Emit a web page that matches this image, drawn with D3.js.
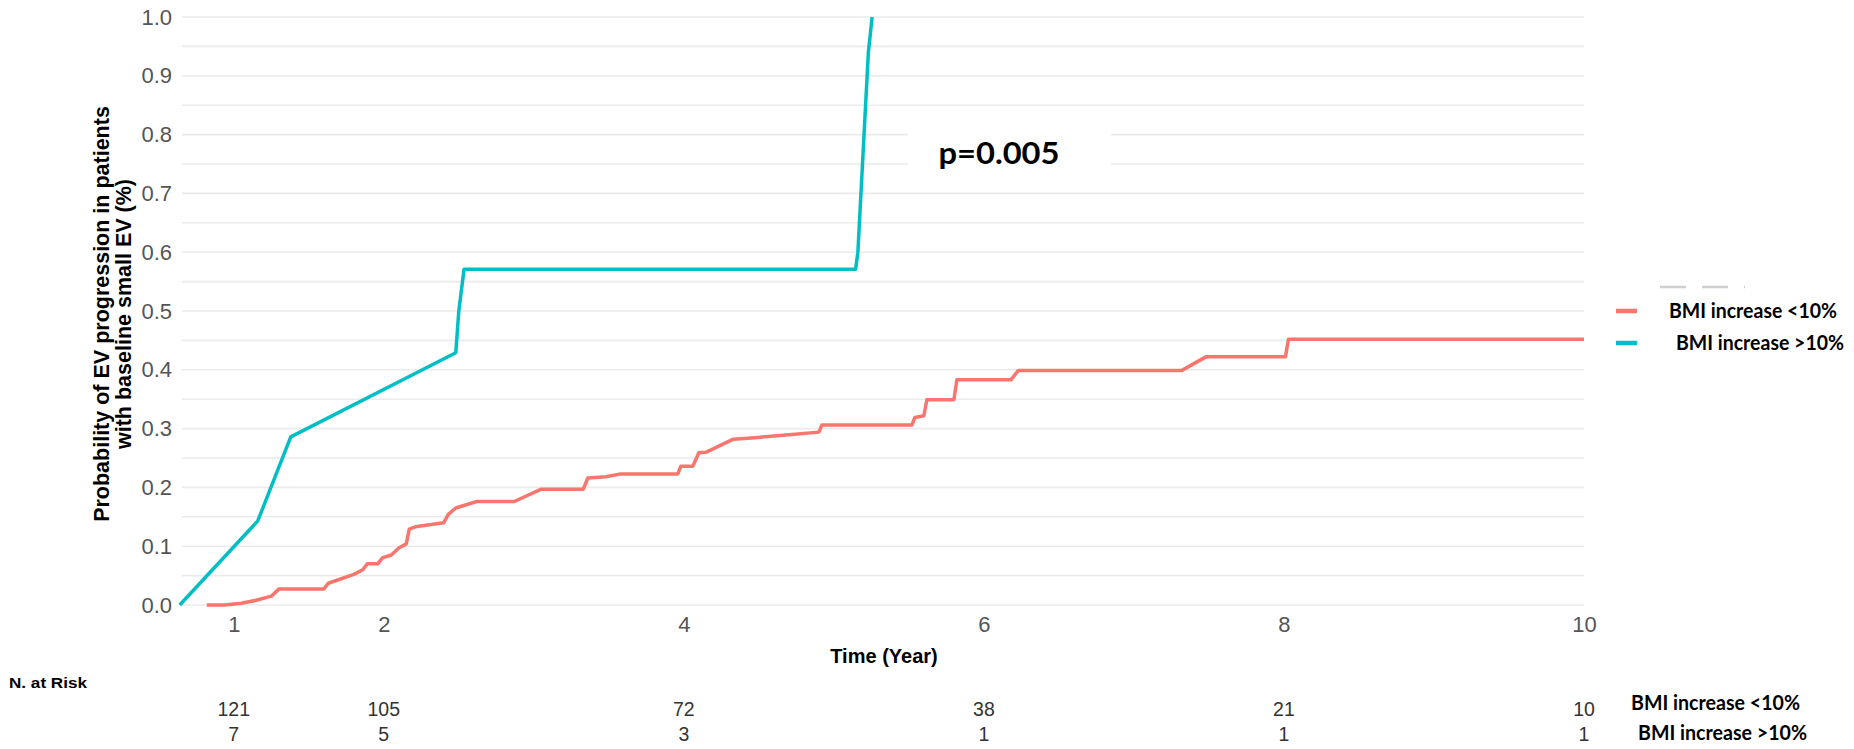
<!DOCTYPE html>
<html lang="en">
<head>
  <meta charset="UTF-8">
  <title>EV progression by BMI increase</title>
  <style>
    body { margin: 0; background: #fff; }
    svg { display: block; }
  </style>
</head>
<body>
  <svg id="chart" width="1854" height="749"></svg>

  <script src="https://d3js.org/d3.v7.min.js"></script>
  <script>
    // values (time in years, cumulative probability)
    const groups = ["BMI increase <10%", "BMI increase >10%"];
    const groupColors = ["#F8766D", "#00BFC4"];

    const timeLow = [0.82, 0.94, 1.05, 1.15, 1.25, 1.30, 1.60, 1.63, 1.80, 1.86, 1.89, 1.96, 1.99, 2.05, 2.10, 2.15,
      2.17, 2.21, 2.40, 2.43, 2.48, 2.62, 2.87, 3.05, 3.33, 3.36, 3.48, 3.58, 3.96, 3.98, 4.06, 4.10, 4.15, 4.33,
      4.45, 4.72, 4.90, 4.92, 5.52, 5.54, 5.60, 5.62, 5.80, 5.82, 6.18, 6.23, 7.32, 7.48, 8.01, 8.03, 10.0];
    const probLow = [0, 0, 0.003, 0.008, 0.015, 0.027, 0.027, 0.037, 0.052, 0.06, 0.07, 0.07, 0.08, 0.085, 0.097, 0.104,
      0.129, 0.133, 0.14, 0.154, 0.165, 0.176, 0.176, 0.197, 0.197, 0.216, 0.218, 0.223, 0.223, 0.236, 0.236, 0.259, 0.26, 0.282,
      0.284, 0.29, 0.294, 0.306, 0.306, 0.319, 0.322, 0.349, 0.349, 0.383, 0.383, 0.399, 0.399, 0.422, 0.422, 0.452, 0.452];

    const timeHigh = [0.64, 1.16, 1.38, 2.48, 2.50, 2.535, 5.145, 5.16, 5.23, 5.255];
    const probHigh = [0, 0.143, 0.286, 0.429, 0.50, 0.571, 0.571, 0.60, 0.94, 1.0];

    const xTicks = [1, 2, 4, 6, 8, 10];
    const yTicks = [0, 0.1, 0.2, 0.3, 0.4, 0.5, 0.6, 0.7, 0.8, 0.9, 1.0];
    const riskLow = [121, 105, 72, 38, 21, 10];
    const riskHigh = [7, 5, 3, 1, 1, 1];
    const pText = "p=0.005";

    const svg = d3.select("#chart");

    const x = d3.scaleLinear().domain([0.655, 10]).range([182, 1584]);
    const y = d3.scaleLinear().domain([0, 1]).range([605, 17]);

    // horizontal grid, major + minor every 0.05
    const gridVals = d3.range(0, 1.0001, 0.05);
    svg.append("g")
      .selectAll("line")
      .data(gridVals)
      .enter().append("line")
      .attr("x1", x.range()[0])
      .attr("x2", x.range()[1])
      .attr("y1", d => y(d))
      .attr("y2", d => y(d))
      .attr("stroke", "#ebebeb")
      .attr("stroke-width", 1.6);

    // y axis labels
    const yAxis = svg.append("g")
      .attr("transform", "translate(182,0)")
      .call(d3.axisLeft(y).tickValues(yTicks).tickFormat(d3.format(".1f")).tickSize(0).tickPadding(10));
    yAxis.select(".domain").remove();
    yAxis.selectAll("text")
      .attr("font-family", "Liberation Sans, Arial, sans-serif")
      .attr("font-size", 22)
      .attr("fill", "#555");

    // x axis labels
    const xAxis = svg.append("g")
      .attr("transform", "translate(0,612)")
      .call(d3.axisBottom(x).tickValues(xTicks).tickFormat(d3.format("d")).tickSize(0).tickPadding(4));
    xAxis.select(".domain").remove();
    xAxis.selectAll("text")
      .attr("font-family", "Liberation Sans, Arial, sans-serif")
      .attr("font-size", 22)
      .attr("fill", "#555");

    // curves
    const line = d3.line().x(d => x(d[0])).y(d => y(d[1]));
    const series = [
      d3.zip(timeLow, probLow),
      d3.zip(timeHigh, probHigh)
    ];
    svg.append("g")
      .selectAll("path")
      .data(series)
      .enter().append("path")
      .attr("d", line)
      .attr("fill", "none")
      .attr("stroke", (d, i) => groupColors[i])
      .attr("stroke-width", 3.5)
      .attr("stroke-linejoin", "round");

    // p value on a white patch
    svg.append("rect")
      .attr("x", 908).attr("y", 116)
      .attr("width", 203).attr("height", 64)
      .attr("fill", "#fff");
    svg.append("text")
      .attr("x", 999).attr("y", 164)
      .attr("text-anchor", "middle")
      .attr("font-family", "Lato, Noto Sans, sans-serif")
      .attr("font-weight", "bold")
      .attr("font-size", 31)
      .attr("textLength", 121)
      .attr("lengthAdjust", "spacingAndGlyphs")
      .text(pText);

    // axis titles
    svg.append("text")
      .attr("x", 884).attr("y", 663)
      .attr("text-anchor", "middle")
      .attr("font-family", "Liberation Sans, Arial, sans-serif")
      .attr("font-weight", "bold")
      .attr("font-size", 20)
      .text("Time (Year)");

    const yTitle = svg.append("text")
      .attr("transform", "translate(0,314) rotate(-90)")
      .attr("text-anchor", "middle")
      .attr("font-family", "Liberation Sans, Arial, sans-serif")
      .attr("font-weight", "bold")
      .attr("font-size", 21.5);
    yTitle.append("tspan").attr("x", 0).attr("y", 109).text("Probability of EV progression in patients");
    yTitle.append("tspan").attr("x", 0).attr("y", 131).text("with baseline small EV (%)");

    // legend (sits right of the panel)
    svg.append("line")
      .attr("x1", 1660).attr("x2", 1745)
      .attr("y1", 287).attr("y2", 287)
      .attr("stroke", "#cfcfcf")
      .attr("stroke-width", 2.5)
      .attr("stroke-dasharray", "26,16");

    const legend = svg.append("g");
    groups.forEach((g, i) => {
      const ly = 311 + i * 32;
      legend.append("line")
        .attr("x1", 1616).attr("x2", 1637)
        .attr("y1", ly).attr("y2", ly)
        .attr("stroke", groupColors[i])
        .attr("stroke-width", 4.5);
      legend.append("text")
        .attr("x", 1669 + i * 7).attr("y", ly + 7)
        .attr("font-family", "Lato, Noto Sans, sans-serif")
        .attr("font-weight", "bold")
        .attr("font-size", 20)
        .attr("textLength", 168)
        .attr("lengthAdjust", "spacingAndGlyphs")
        .text(g);
    });

    // number at risk table
    svg.append("text")
      .attr("x", 9).attr("y", 688)
      .attr("font-family", "Liberation Sans, Arial, sans-serif")
      .attr("font-weight", "bold")
      .attr("font-size", 15)
      .attr("textLength", 78)
      .attr("lengthAdjust", "spacingAndGlyphs")
      .text("N. at Risk");

    [riskLow, riskHigh].forEach((row, r) => {
      const ry = 716 + r * 25;
      svg.append("g")
        .selectAll("text")
        .data(row)
        .enter().append("text")
        .attr("x", (d, i) => x(xTicks[i]))
        .attr("y", ry)
        .attr("text-anchor", "middle")
        .attr("font-family", "Liberation Sans, Arial, sans-serif")
        .attr("font-size", 19.5)
        .attr("fill", "#333")
        .text(d => d);
      svg.append("text")
        .attr("x", 1631 + r * 7).attr("y", 710 + r * 30)
        .attr("font-family", "Lato, Noto Sans, sans-serif")
        .attr("font-weight", "bold")
        .attr("font-size", 20.5)
        .attr("textLength", 169)
        .attr("lengthAdjust", "spacingAndGlyphs")
        .text(groups[r]);
    });
  </script>
</body>
</html>
